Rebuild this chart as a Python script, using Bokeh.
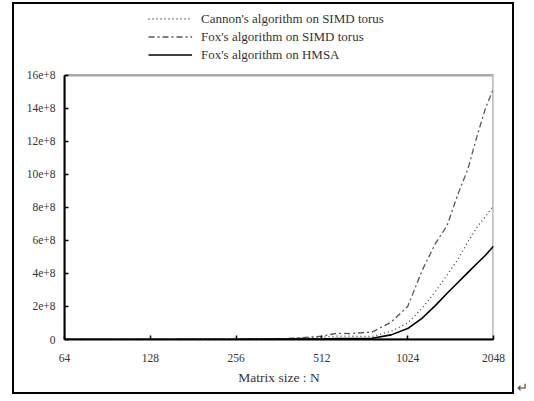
from bokeh.plotting import figure
from bokeh.models import (Range1d, FixedTicker, Legend, LegendItem, Div)
from bokeh.layouts import row
from bokeh.embed import file_html
from bokeh.resources import INLINE

# ---- data ----
matrix_size = [64, 128, 256, 384, 512, 576, 640, 768, 896, 1024,
               1152, 1280, 1408, 1536, 1664, 1792, 1920, 2048]
cannon_simd = [0.01e8, 0.01e8, 0.02e8, 0.05e8, 0.15e8, 0.20e8, 0.20e8, 0.18e8, 0.50e8, 1.00e8,
               1.90e8, 2.90e8, 3.90e8, 4.85e8, 5.90e8, 6.80e8, 7.45e8, 8.10e8]
fox_simd = [0.01e8, 0.01e8, 0.02e8, 0.05e8, 0.20e8, 0.38e8, 0.36e8, 0.45e8, 1.05e8, 2.00e8,
            4.20e8, 5.80e8, 6.90e8, 8.80e8, 10.3e8, 12.3e8, 14.0e8, 15.2e8]
fox_hmsa = [0.00e8, 0.00e8, 0.01e8, 0.02e8, 0.02e8, 0.05e8, 0.06e8, 0.08e8, 0.28e8, 0.66e8,
            1.30e8, 2.05e8, 2.80e8, 3.45e8, 4.05e8, 4.60e8, 5.10e8, 5.65e8]

x_ticks = [64, 128, 256, 512, 1024, 2048]
x_tick_labels = ["64", "128", "256", "512", "1024", "2048"]
y_ticks = [0, 2e8, 4e8, 6e8, 8e8, 10e8, 12e8, 14e8, 16e8]
y_tick_labels = ["0", "2e+8", "4e+8", "6e+8", "8e+8", "10e+8", "12e+8", "14e+8", "16e+8"]
series_names = ["Cannon's algorithm on SIMD torus",
                "Fox's algorithm on SIMD torus",
                "Fox's algorithm on HMSA"]
x_title = "Matrix size : N"

FONT = "Liberation Serif"

# the frame is extended upward so that the legend (drawn above the axes box) stays visible
y_top = y_ticks[-1] * 333 / 264.3

p = figure(width=502, height=392, x_axis_type="log",
           x_range=Range1d(x_ticks[0], x_ticks[-1]), y_range=Range1d(0, y_top),
           output_backend="svg", toolbar_location=None,
           min_border_left=50, min_border_right=23,
           min_border_top=2, min_border_bottom=57)
p.styles = {"border": "2px solid black", "margin-left": "12px", "margin-top": "2px"}

p.xgrid.visible = False
p.ygrid.visible = False
p.outline_line_color = None
p.background_fill_color = "white"
p.border_fill_color = "white"

# gray box of the axes area (0 .. 16e+8, 64 .. 2048)
p.quad(left=[x_ticks[0]], right=[x_ticks[-1]], bottom=[y_ticks[0]], top=[y_ticks[-1]],
       fill_color=None, line_color="#a8a8a8", line_width=2.5)

# axes
p.xaxis.ticker = FixedTicker(ticks=x_ticks, minor_ticks=[])
p.xaxis.major_label_overrides = {t: l for t, l in zip(x_ticks, x_tick_labels)}
p.yaxis.ticker = FixedTicker(ticks=y_ticks, minor_ticks=[])
p.yaxis.major_label_overrides = {t: l for t, l in zip(y_ticks, y_tick_labels)}
p.yaxis.bounds = (y_ticks[0], y_ticks[-1])
for ax in (p.xaxis[0], p.yaxis[0]):
    ax.axis_line_color = "black"
    ax.axis_line_width = 2
    ax.major_tick_line_color = "black"
    ax.major_tick_line_width = 1.5
    ax.major_tick_in = 4
    ax.major_tick_out = 0
    ax.minor_tick_line_color = None
    ax.major_label_text_font = FONT
    ax.major_label_text_font_size = "11.5px"
    ax.major_label_text_color = "#333333"
p.xaxis.major_label_standoff = 14
p.yaxis.major_label_standoff = 9
p.xaxis.axis_label = x_title
p.xaxis.axis_label_text_font = FONT
p.xaxis.axis_label_text_font_size = "13.5px"
p.xaxis.axis_label_text_font_style = "normal"
p.xaxis.axis_label_text_color = "#333333"
p.xaxis.axis_label_standoff = 5

r1 = p.line(matrix_size, cannon_simd, line_color="#3a3a3a", line_width=1.3,
            line_dash="1 3")
r2 = p.line(matrix_size, fox_simd, line_color="#555555", line_width=1.3,
            line_dash="6 3 2 3")
r3 = p.line(matrix_size, fox_hmsa, line_color="black", line_width=1.6)

legend = Legend(items=[LegendItem(label=series_names[0], renderers=[r1]),
                       LegendItem(label=series_names[1], renderers=[r2]),
                       LegendItem(label=series_names[2], renderers=[r3])],
                location=(84, 276), orientation="vertical",
                border_line_color=None, background_fill_alpha=0,
                padding=0, margin=0, spacing=1,
                glyph_width=44, glyph_height=17, label_height=17,
                label_standoff=9,
                label_text_font=FONT, label_text_font_size="13px",
                label_text_color="#333333")
p.add_layout(legend, "center")

mark = Div(text="↵", width=14, height=16,
           styles={"margin-top": "380px", "margin-left": "3px",
                   "font-size": "13px", "color": "#444444", "line-height": "16px"})

layout = row(p, mark)
open("out.html", "w").write(file_html(layout, INLINE))
